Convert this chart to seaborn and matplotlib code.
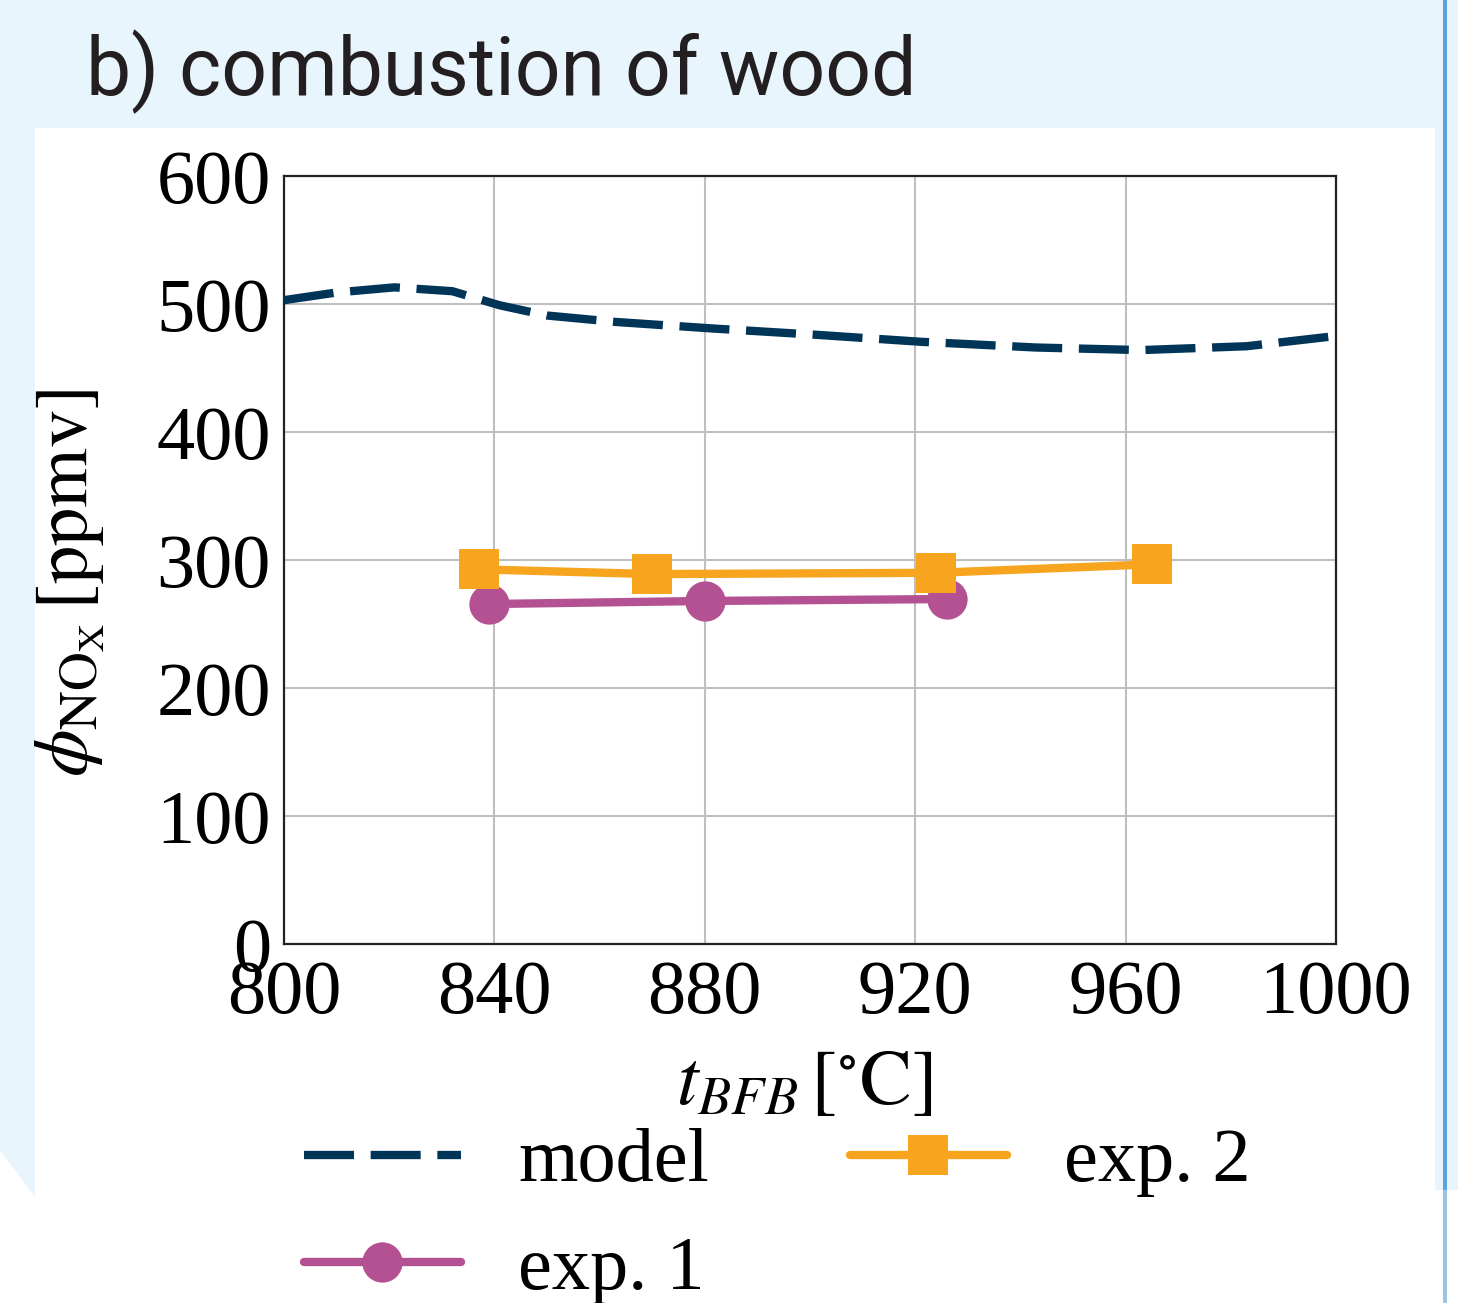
import matplotlib
matplotlib.use("Agg")
import matplotlib.pyplot as plt
import matplotlib.patches as mpatches
import seaborn as sns
import pandas as pd

# ---- data ----
model_t = [800, 810, 821, 832, 841, 850, 863, 881, 901, 921, 943, 963, 983, 1000]
model_nox = [503, 509, 513, 510, 499, 491, 486, 481, 476, 470.5, 466, 464, 467, 475]
exp1_t = [839, 880, 926]
exp1_nox = [265.6, 268, 269.5]
exp2_t = [837, 870, 924, 965]
exp2_nox = [292.7, 289, 290, 296.6]
x_ticks = [800, 840, 880, 920, 960, 1000]
y_ticks = [0, 100, 200, 300, 400, 500, 600]

C_MODEL = "#003557"
C_EXP1 = "#B45192"
C_EXP2 = "#F7A41F"
C_BG = "#E8F5FC"

sns.set_theme(style="whitegrid")
plt.rcParams["font.family"] = ["Liberation Serif", "DejaVu Serif"]
plt.rcParams["mathtext.fontset"] = "stix"
plt.rcParams["text.color"] = "black"
plt.rcParams["axes.labelcolor"] = "black"

W, H = 1458, 1303
fig = plt.figure(figsize=(W / 100, H / 100), dpi=100, facecolor="white")

def fx(px):
    return px / W

def fy(py):
    return 1 - py / H

# decorative poster background
bg_patches = [
    mpatches.Rectangle((0, fy(128)), 1, 1 - fy(128), facecolor=C_BG, edgecolor="none"),
    mpatches.Rectangle((fx(1435), fy(1190)), 1 - fx(1435), fy(0) - fy(1190), facecolor=C_BG, edgecolor="none"),
    mpatches.Polygon([(0, fy(128)), (fx(35), fy(128)), (fx(35), fy(1197)), (0, fy(1150))],
                     closed=True, facecolor=C_BG, edgecolor="none"),
    mpatches.Rectangle((fx(1443), fy(1190)), fx(4), fy(0) - fy(1190), facecolor="#5AA3DB", edgecolor="none"),
    mpatches.Rectangle((fx(1443), 0), fx(4), fy(1190), facecolor="#9CC3E4", edgecolor="none"),
]
for p in bg_patches:
    p.set_transform(fig.transFigure)
    p.set_zorder(-10)
    fig.patches.append(p)

fig.text(fx(86), fy(95), "b) combustion of wood", family=["Roboto", "DejaVu Sans"],
         fontsize=58, color="#231F20", va="baseline", ha="left")

ax = fig.add_axes([fx(284), fy(944), fx(1336) - fx(284), fy(176) - fy(944)])
ax.set_facecolor("white")

df_model = pd.DataFrame({"t": model_t, "nox": model_nox})
df_exp1 = pd.DataFrame({"t": exp1_t, "nox": exp1_nox})
df_exp2 = pd.DataFrame({"t": exp2_t, "nox": exp2_nox})

sns.lineplot(data=df_model, x="t", y="nox", ax=ax, color=C_MODEL, linewidth=6,
             linestyle=(0, (6, 2.0)), label="model", zorder=3)
sns.lineplot(data=df_exp1, x="t", y="nox", ax=ax, color=C_EXP1, linewidth=6,
             marker="o", markersize=29, markeredgewidth=0, label="exp. 1", zorder=4)
sns.lineplot(data=df_exp2, x="t", y="nox", ax=ax, color=C_EXP2, linewidth=6,
             marker="s", markersize=29, markeredgewidth=0, label="exp. 2", zorder=5)

ax.set_xlim(800, 1000)
ax.set_ylim(0, 600)
ax.set_xticks(x_ticks)
ax.set_yticks(y_ticks)
ax.grid(True, color="#BFBFBF", linewidth=1.5)
for s in ax.spines.values():
    s.set_color("#222222")
    s.set_linewidth(1.6)
ax.tick_params(axis="both", direction="out", length=7.5, width=1.5, color="#222222",
               labelsize=55, labelcolor="black", pad=4)
ax.tick_params(axis="y", pad=2)

ax.set_xlabel(r"$t_{BFB}\,[^{\circ}\mathrm{C}]$", fontsize=56, color="black")
ax.xaxis.set_label_coords(0.495, -0.137)
ax.set_ylabel(r"$\phi_{\mathrm{NO_X}}\,[\mathrm{ppmv}]$", fontsize=55, color="black")
ax.yaxis.set_label_coords(-0.168, 0.47)

leg = ax.legend(loc="upper left", bbox_to_anchor=(fx(304), fy(1128)),
                bbox_transform=fig.transFigure, ncol=2, frameon=False,
                fontsize=55, handlelength=2.05, handletextpad=0.75,
                columnspacing=1.85, labelspacing=0.5, borderpad=0, borderaxespad=0,
                labelcolor="black")

fig.savefig("out.png", dpi=100, facecolor=fig.get_facecolor())
